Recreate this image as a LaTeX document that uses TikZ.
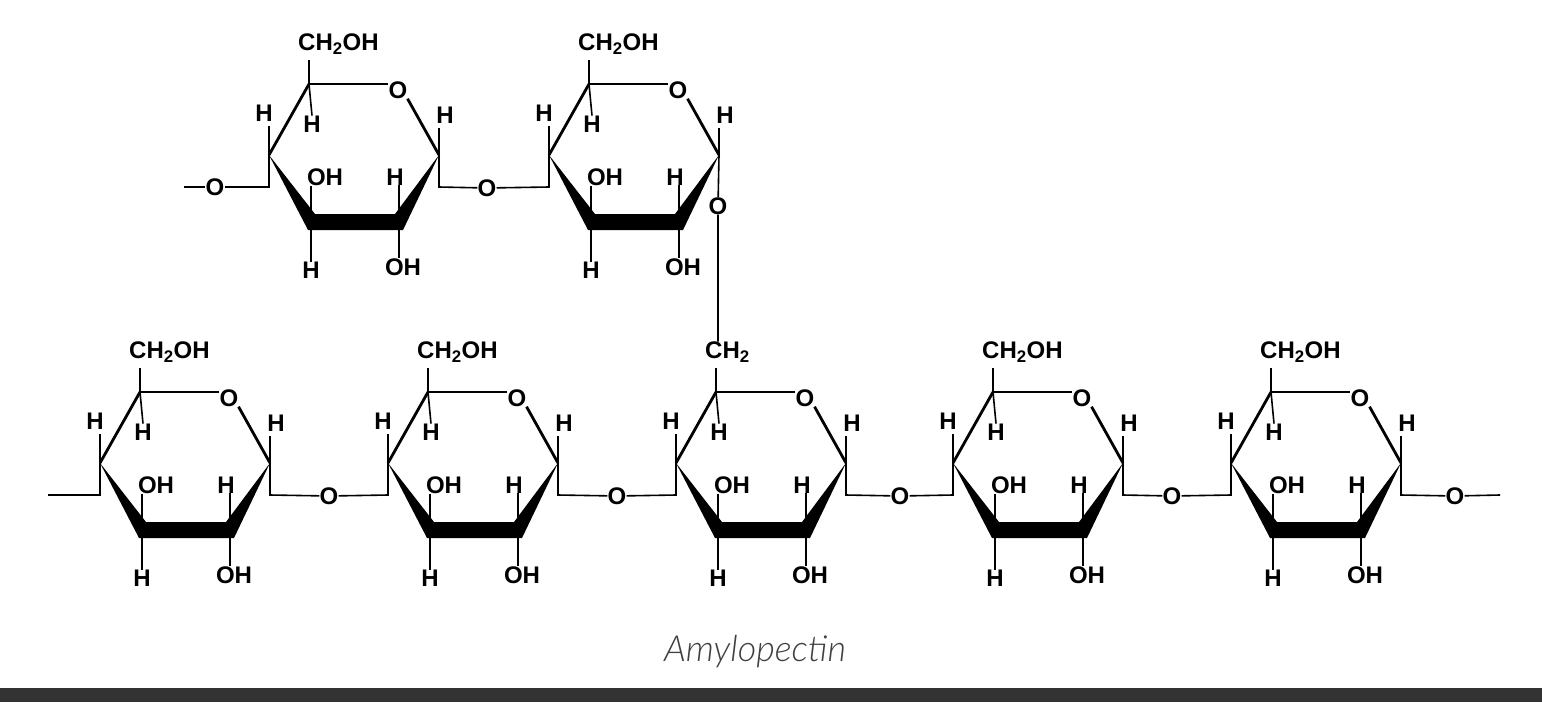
\documentclass[tikz,border=0pt]{standalone}
\usepackage{fontspec}
\setmainfont{Liberation Sans}
\newfontfamily\capfont{Lato Light}
\begin{document}
\begin{tikzpicture}[x=1pt,y=-1pt,
 lab/.style={font=\fontsize{24}{24}\selectfont\bfseries,inner sep=0pt},
 bond/.style={line width=1.6pt},
 heavy/.style={line width=2.8pt}]
\useasboundingbox (0,0) rectangle (1542,702);
\fill[white] (0,0) rectangle (1542,702);
\fill[black!80] (0,688) rectangle (1542,702);
\newcommand\glu[4]{%
\begin{scope}[shift={(#2,#3)}]
\coordinate (#1c5) at (140,392); \coordinate (#1c4) at (100,463);
\coordinate (#1c3) at (142,530); \coordinate (#1c2) at (230,530);
\coordinate (#1c1) at (270,463);
\coordinate (#1l) at (100,495); \coordinate (#1r) at (270,495);
\node[lab,anchor=west] (#1top) at (129,352) {#4};
\node[lab] (#1o) at (229,398) {O};
\node[lab] (#1h5) at (143,432) {H};
\node[lab] (#1h4) at (95,421) {H};
\node[lab] (#1oh3) at (156,485) {OH};
\node[lab] (#1h3) at (142,578) {H};
\node[lab] (#1h2) at (226,485) {H};
\node[lab] (#1oh2) at (234,575) {OH};
\node[lab] (#1h1) at (276,423) {H};
\draw[bond] (#1c5) -- (140,368);
\draw[heavy] (#1c5) -- (#1c4);
\draw[bond] (#1c5) -- (#1o.west |- #1c5);
\draw[heavy] (#1o.south east) -- (#1c1);
\fill (#1c4) -- (139,538) -- (234,538) -- (#1c1) -- (226,522) -- (146,522) -- cycle;
\draw[bond] (#1c5) -- (#1h5.north);
\draw[bond] (#1c4) -- (100,434);
\draw[bond] (#1c3) -- (#1oh3.south -| #1c3);
\draw[bond] (#1c3) -- (#1h3.north);
\draw[bond] (#1c2) -- (#1h2.south -| #1c2);
\draw[bond] (#1c2) -- (#1oh2.north -| #1c2);
\draw[bond] (#1c1) -- (270,436);
\end{scope}}
\glu{a}{0}{0}{CH\textsubscript{2}OH}
\glu{b}{288}{0}{CH\textsubscript{2}OH}
\glu{c}{576}{0}{CH\textsubscript{2}}
\glu{d}{853}{0}{CH\textsubscript{2}OH}
\glu{e}{1131}{0}{CH\textsubscript{2}OH}
\glu{t}{169}{-308}{CH\textsubscript{2}OH}
\glu{u}{449}{-308}{CH\textsubscript{2}OH}
% bottom chain
\coordinate (start) at (48,495);
\coordinate (stop) at (1500,495);
\node[lab] (o1) at (329,496) {O};
\node[lab] (o2) at (617,496) {O};
\node[lab] (o3) at (900,496) {O};
\node[lab] (o4) at (1172,496) {O};
\node[lab] (o5) at (1455,496) {O};
\draw[bond] (start) -- (al) -- (ac4);
\draw[bond] (ac1) -- (ar) -- (o1) -- (bl) -- (bc4);
\draw[bond] (bc1) -- (br) -- (o2) -- (cl) -- (cc4);
\draw[bond] (cc1) -- (cr) -- (o3) -- (dl) -- (dc4);
\draw[bond] (dc1) -- (dr) -- (o4) -- (el) -- (ec4);
\draw[bond] (ec1) -- (er) -- (o5) -- (stop);
% top chain
\coordinate (tstart) at (184,187);
\node[lab] (ot0) at (215,187) {O};
\node[lab] (ot1) at (487,188) {O};
\node[lab] (ot2) at (718,206) {O};
\draw[bond] (tstart) -- (ot0) -- (tl) -- (tc4);
\draw[bond] (tc1) -- (tr) -- (ot1) -- (ul) -- (uc4);
\draw[bond] (uc1) -- (ot2) -- (ot2 |- ctop.north);
\node[font=\capfont\itshape\fontsize{36}{36}\selectfont,text=black!75] (cap) at (755,652) {Amylopectin};
\end{tikzpicture}
\end{document}
